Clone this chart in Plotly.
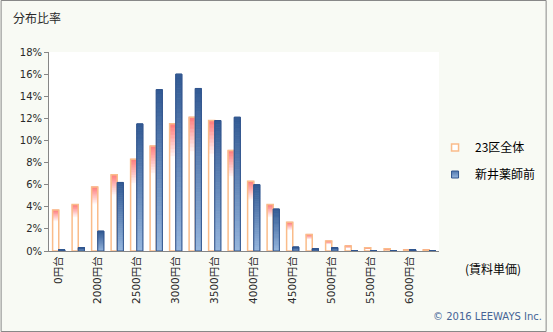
import plotly.graph_objects as go

# Rent-per-unit bands (yen); labels shown on every second band
categories = ["0円台", "1750円台", "2000円台", "2250円台", "2500円台", "2750円台",
              "3000円台", "3250円台", "3500円台", "3750円台", "4000円台", "4250円台",
              "4500円台", "4750円台", "5000円台", "5250円台", "5500円台", "5750円台",
              "6000円台", "6250円台"]
tick_labels = categories[::2]

# Distribution share (%) per band
ward_all = [3.7, 4.2, 5.8, 6.9, 8.3, 9.5, 11.5, 12.1, 11.8, 9.1,
            6.3, 4.2, 2.6, 1.5, 0.9, 0.45, 0.3, 0.2, 0.1, 0.1]
araiyakushi = [0.1, 0.3, 1.8, 6.2, 11.5, 14.6, 16.0, 14.7, 11.8, 12.1,
               6.0, 3.8, 0.35, 0.2, 0.3, 0, 0, 0, 0.1, 0]

W, H = 553, 332
L, R, T, B = 49, 444, 52, 251  # plot area in pixels


def px_x(px):
    return (px - L) / (R - L)


def px_y(py):
    return (B - py) / (B - T)


def mix(c1, c2, t):
    t = max(0.0, min(1.0, t))
    return "rgb(%d,%d,%d)" % tuple(round(a + (b - a) * t) for a, b in zip(c1, c2))


PINK = (255, 122, 122)
WHITE = (255, 255, 255)
BLUE_TOP = (50, 90, 148)
BLUE_BOT = (150, 182, 222)
ORANGE_LINE = "rgb(250,188,138)"
BLUE_LINE = "rgb(48,84,140)"

fig = go.Figure()

K = 36  # slices per bar for the vertical gradient


def gradient_bars(values, group, color_fn):
    for k in range(K):
        frac_top = 1 - (k + 0.5) / K  # 0 at top of bar, 1 at bottom
        c = color_fn(frac_top)
        fig.add_trace(go.Bar(
            x=categories,
            y=[v / K for v in values],
            base=[v * k / K for v in values],
            offsetgroup=group,
            marker=dict(color=c, line=dict(color=c, width=0.8)),
            showlegend=False, hoverinfo="skip",
        ))


def outline(values, group, line_color, width):
    fig.add_trace(go.Bar(
        x=categories, y=values, offsetgroup=group,
        marker=dict(color="rgba(0,0,0,0)", line=dict(color=line_color, width=width)),
        showlegend=False, hoverinfo="skip",
    ))


gradient_bars(ward_all, "ward", lambda t: mix(PINK, WHITE, t / 0.27))
outline(ward_all, "ward", ORANGE_LINE, 1.5)
gradient_bars(araiyakushi, "local", lambda t: mix(BLUE_TOP, BLUE_BOT, t))
outline(araiyakushi, "local", BLUE_LINE, 1)

# Legend entries
fig.add_trace(go.Scatter(
    x=[None], y=[None], mode="markers", name="23区全体", legendgroup="a",
    marker=dict(symbol="square", size=7, color="white",
                line=dict(color=ORANGE_LINE, width=1.5)),
))
fig.add_trace(go.Scatter(
    x=[None], y=[None], mode="markers", name="新井薬師前", legendgroup="b",
    marker=dict(symbol="square", size=7, color="rgb(80,120,175)",
                gradient=dict(type="vertical", color="rgb(150,182,222)"),
                line=dict(color=BLUE_LINE, width=1)),
))

AXIS_GRAY = "rgb(134,134,134)"
TEXT = "rgb(40,40,40)"

fig.update_layout(
    width=W, height=H,
    margin=dict(l=L, r=W - R, t=T, b=H - B),
    paper_bgcolor="rgb(248,250,244)",
    plot_bgcolor="white",
    barmode="group", bargap=0.37, bargroupgap=0,
    font=dict(family="DejaVu Sans, Noto Sans CJK JP", size=10, color=TEXT),
    title=dict(text="分布比率", x=13 / W, xanchor="left", y=1 - 19 / H, yanchor="middle",
               font=dict(family="Noto Sans CJK JP", size=12, color=TEXT)),
    xaxis=dict(
        type="category", range=[-0.5, len(categories) - 0.5],
        tickvals=tick_labels, ticktext=tick_labels, tickangle=-90,
        ticks="", showline=True, linecolor=AXIS_GRAY, linewidth=1,
        showgrid=False, zeroline=False,
        tickfont=dict(size=10.5, color=TEXT),
    ),
    xaxis2=dict(
        overlaying="x", anchor="y", side="bottom",
        range=[-0.5, len(categories) - 0.5],
        tickvals=[i - 0.5 for i in range(0, len(categories) + 1, 2)],
        ticks="outside", ticklen=4, tickcolor=AXIS_GRAY, tickwidth=1,
        showticklabels=False, showline=False, showgrid=False, zeroline=False,
    ),
    yaxis=dict(
        range=[0, 18], dtick=2, ticksuffix="%",
        ticks="outside", ticklen=4, tickcolor=AXIS_GRAY, tickwidth=1,
        showline=True, linecolor=AXIS_GRAY, linewidth=1,
        showgrid=False, zeroline=False,
        tickfont=dict(size=10, color=TEXT),
    ),
    legend=dict(
        x=px_x(440), xanchor="left", y=px_y(133), yanchor="top",
        bgcolor="rgba(0,0,0,0)", borderwidth=0,
        font=dict(family="Noto Sans CJK JP", size=12, color="black"),
        traceorder="grouped", tracegroupgap=8,
    ),
    annotations=[
        dict(text="(賃料単価)", xref="paper", yref="paper",
             x=px_x(498.5), y=px_y(268), xanchor="center", yanchor="middle",
             showarrow=False, font=dict(family="Noto Sans CJK JP", size=12, color="black")),
        dict(text="© 2016 LEEWAYS Inc.", xref="paper", yref="paper",
             x=px_x(493), y=px_y(316), xanchor="center", yanchor="middle",
             showarrow=False, font=dict(family="DejaVu Sans", size=10, color="rgb(70,100,150)")),
    ],
    shapes=[
        dict(type="rect", xref="paper", yref="paper",
             x0=px_x(0.5), x1=px_x(W - 0.5), y0=px_y(H - 0.5), y1=px_y(0.5),
             line=dict(color="rgb(136,136,136)", width=1), fillcolor="rgba(0,0,0,0)",
             layer="above"),
    ],
)

fig.write_html("out.html")
